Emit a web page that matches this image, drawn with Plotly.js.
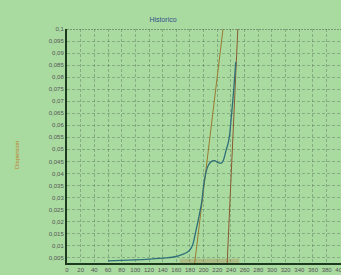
<!DOCTYPE html>
<html>
<head>
<meta charset="utf-8">
<script src="https://cdn.plot.ly/plotly-3.0.1.min.js"></script>
<style>html,body{margin:0;padding:0;background:#a9dba1;overflow:hidden;}#chart{width:341px;height:275px;}</style>
</head>
<body>
<div id="chart"></div>
<script>
const curveX = [60, 80, 100, 121, 145, 160, 170, 176, 180, 184, 189, 193, 197, 201, 206, 211, 216, 221, 226, 229, 233, 236, 238, 241, 244, 247];
const curveY = [0.0037, 0.0039, 0.0041, 0.0044, 0.0049, 0.0055, 0.0065, 0.0073, 0.0083, 0.0104, 0.0166, 0.0220, 0.0278, 0.0370, 0.0429, 0.0449, 0.0453, 0.0445, 0.0443, 0.0456, 0.0498, 0.0527, 0.0560, 0.0650, 0.0747, 0.0863];
const tangentAX = [186.9, 228.3];
const tangentAY = [0.0028, 0.1];
const tangentBX = [234.4, 250.0];
const tangentBY = [0.0028, 0.1];
const bandX = [165, 252];
const bandY = [0.0035, 0.0035];
const xTicks = [0,20,40,60,80,100,120,140,160,180,200,220,240,260,280,300,320,340,360,380,400];
const yTicks = [0.005,0.01,0.015,0.02,0.025,0.03,0.035,0.04,0.045,0.05,0.055,0.06,0.065,0.07,0.075,0.08,0.085,0.09,0.095,0.1];
const titleText = 'Historico';
const yTitleText = 'Dispersion';

const traces = [
  {x: bandX, y: bandY, mode: 'lines', line: {color: 'rgba(170,110,60,0.28)', width: 5}, hoverinfo: 'skip', showlegend: false},
  {x: tangentAX, y: tangentAY, mode: 'lines', line: {color: '#9a7a30', width: 1}, showlegend: false},
  {x: tangentBX, y: tangentBY, mode: 'lines', line: {color: '#8a5a30', width: 1}, showlegend: false},
  {x: curveX, y: curveY, mode: 'lines', line: {color: '#2f6f78', width: 1.3, shape: 'spline', smoothing: 0.7}, showlegend: false}
];

const layout = {
  width: 341, height: 275,
  margin: {l: 67, r: 0, t: 29, b: 12, pad: 0},
  paper_bgcolor: '#a9dba1',
  plot_bgcolor: '#a9dba1',
  separators: ',.',
  showlegend: false,
  font: {family: 'Liberation Sans, Arial, sans-serif', size: 6, color: '#555'},
  title: {text: titleText, font: {size: 7, color: '#34508a'}, x: 163/341, xanchor: 'center', y: 1 - 20/275, yanchor: 'middle'},
  xaxis: {
    range: [0, 401], tickvals: xTicks, ticktext: xTicks.map(String),
    showgrid: true, gridcolor: 'rgba(90,115,90,0.45)', griddash: '3px,2px', gridwidth: 1,
    showline: true, linecolor: '#1e3a1e', linewidth: 2,
    ticks: '', zeroline: false, tickfont: {size: 6, color: '#555'},
    ticklabeloverflow: 'allow'
  },
  yaxis: {
    range: [0.0028, 0.1], tickvals: yTicks,
    showgrid: true, gridcolor: 'rgba(90,115,90,0.45)', griddash: '3px,2px', gridwidth: 1,
    showline: true, linecolor: '#1e3a1e', linewidth: 2,
    ticks: '', zeroline: false, tickfont: {size: 6, color: '#555'}
  },
  shapes: [
    {type: 'line', xref: 'paper', yref: 'y', x0: 0, x1: 1, y0: 0.1, y1: 0.1, line: {color: '#4a5a4a', width: 1, dash: '2px,1px'}}
  ],
  annotations: [
    {text: yTitleText, xref: 'paper', yref: 'paper', x: -50/274, y: (263-155)/234, xanchor: 'center', yanchor: 'middle', textangle: -90, showarrow: false, font: {size: 6, color: '#c07a2a'}}
  ]
};

Plotly.newPlot('chart', traces, layout, {staticPlot: true, displayModeBar: false});
</script>
</body>
</html>
